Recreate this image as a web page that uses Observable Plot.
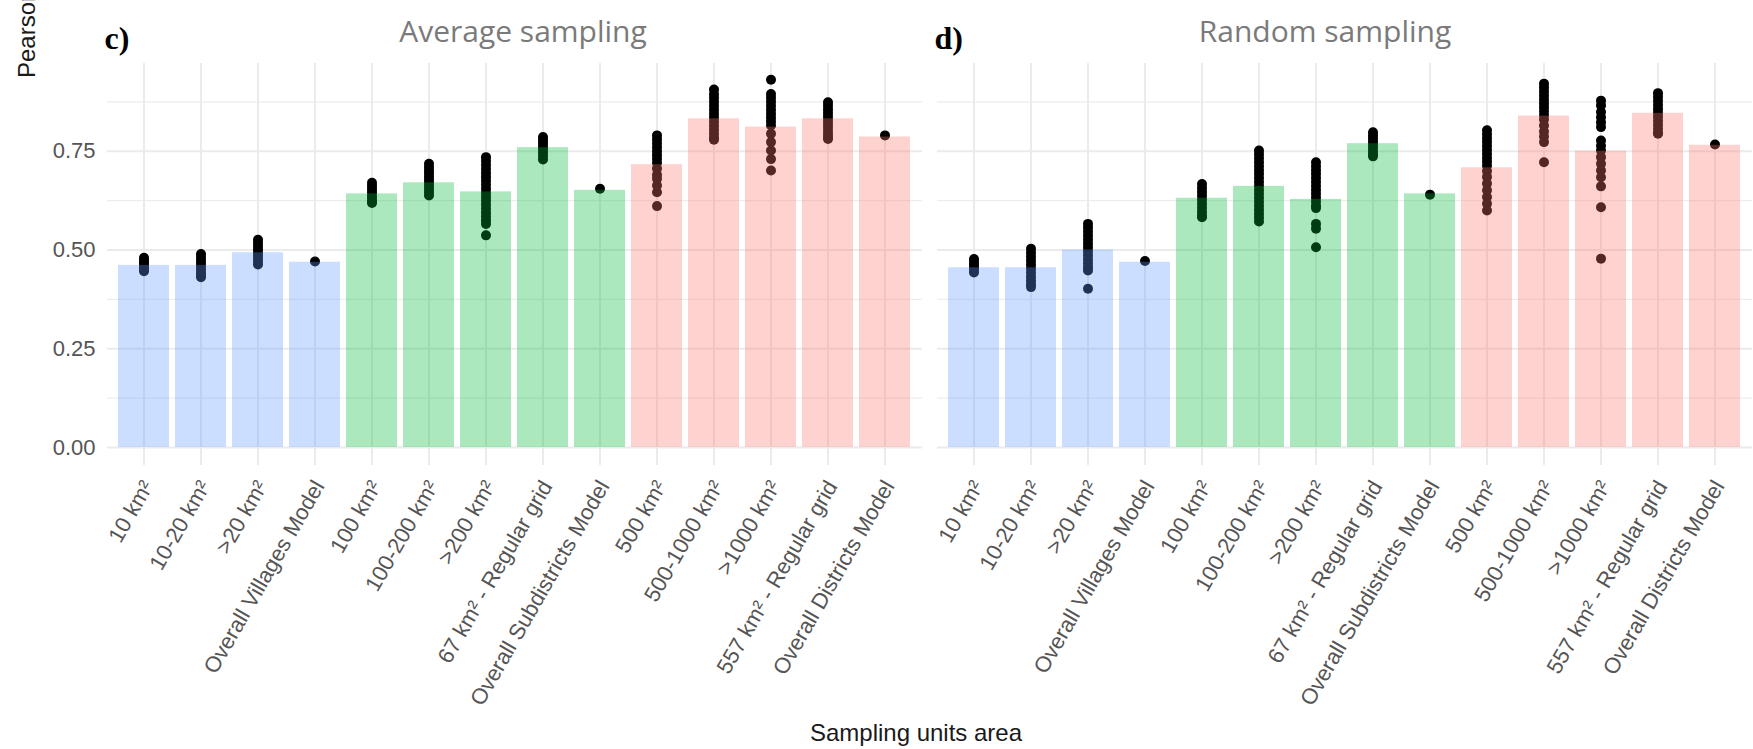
<!DOCTYPE html>
<html>
<head>
<meta charset="utf-8">
<script src="https://cdn.jsdelivr.net/npm/d3@7"></script>
<script src="https://cdn.jsdelivr.net/npm/@observablehq/plot@0.6"></script>
<style>
  body { margin: 0; background: #fff; }
  #wrap { position: relative; width: 1753px; height: 749px; overflow: hidden; background: #fff; }
  #chart { position: absolute; left: 0; top: 0; }
  #ytitle { position: absolute; left: 15px; top: 78px; transform-origin: 0 0; transform: rotate(-90deg);
            font: 24px/24px "Liberation Sans", Arial, sans-serif; color: #1a1a1a; white-space: nowrap; }
  #xtitle { position: absolute; left: 616px; width: 600px; top: 721px; text-align: center;
            font: 24px/24px "Liberation Sans", Arial, sans-serif; color: #1a1a1a; white-space: nowrap; }
</style>
</head>
<body>
<div id="wrap">
  <div id="chart"></div>
  <div id="ytitle">Pearson correlation coefficient</div>
  <div id="xtitle">Sampling units area</div>
</div>
<script>
const panels = ["Average sampling", "Random sampling"];
const panelTags = ["c)", "d)"];
const categories = ["10 km²", "10-20 km²", ">20 km²", "Overall Villages Model",
  "100 km²", "100-200 km²", ">200 km²", "67 km² - Regular grid", "Overall Subdistricts Model",
  "500 km²", "500-1000 km²", ">1000 km²", "557 km² - Regular grid", "Overall Districts Model"];
const levels = ["Villages", "Villages", "Villages", "Villages",
  "Subdistricts", "Subdistricts", "Subdistricts", "Subdistricts", "Subdistricts",
  "Districts", "Districts", "Districts", "Districts", "Districts"];
const levelNames = ["Villages", "Subdistricts", "Districts"];
const levelColors = ["#619CFF", "#00BA38", "#F8766D"];
const majorTicks = [0, 0.25, 0.5, 0.75];
const minorTicks = [0.125, 0.375, 0.625, 0.875];

const avgBar = [0.461, 0.461, 0.493, 0.469, 0.642, 0.670, 0.647, 0.759, 0.651, 0.716, 0.832, 0.811, 0.832, 0.786];
const rndBar = [0.455, 0.455, 0.500, 0.469, 0.631, 0.661, 0.628, 0.769, 0.642, 0.708, 0.839, 0.750, 0.846, 0.765];

const avgPts = [
  [0.480, 0.474, 0.468, 0.462, 0.456, 0.450, 0.446],
  [0.490, 0.482, 0.474, 0.466, 0.458, 0.450, 0.442, 0.436, 0.431],
  [0.526, 0.518, 0.510, 0.502, 0.494, 0.486, 0.478, 0.470, 0.463],
  [0.471],
  [0.670, 0.662, 0.654, 0.646, 0.638, 0.630, 0.622, 0.619],
  [0.718, 0.710, 0.702, 0.694, 0.686, 0.678, 0.670, 0.662, 0.654, 0.646, 0.638],
  [0.735, 0.725, 0.715, 0.705, 0.695, 0.685, 0.675, 0.665, 0.655, 0.645, 0.635, 0.625, 0.615, 0.605, 0.595, 0.585, 0.575, 0.566, 0.537],
  [0.786, 0.778, 0.770, 0.762, 0.754, 0.746, 0.738, 0.729],
  [0.655],
  [0.790, 0.780, 0.770, 0.760, 0.750, 0.740, 0.730, 0.720, 0.706, 0.690, 0.680, 0.663, 0.646, 0.611],
  [0.906, 0.895, 0.885, 0.875, 0.865, 0.855, 0.845, 0.835, 0.825, 0.815, 0.805, 0.795, 0.785, 0.779],
  [0.931, 0.895, 0.885, 0.875, 0.865, 0.855, 0.845, 0.835, 0.825, 0.815, 0.794, 0.773, 0.752, 0.730, 0.701],
  [0.874, 0.865, 0.856, 0.847, 0.838, 0.829, 0.820, 0.811, 0.802, 0.793, 0.785, 0.781],
  [0.790]
];

const rndPts = [
  [0.477, 0.470, 0.463, 0.456, 0.449, 0.443],
  [0.503, 0.493, 0.483, 0.473, 0.463, 0.453, 0.443, 0.433, 0.423, 0.413, 0.406],
  [0.566, 0.556, 0.546, 0.536, 0.526, 0.516, 0.506, 0.496, 0.486, 0.476, 0.466, 0.456, 0.448, 0.402],
  [0.472],
  [0.667, 0.657, 0.647, 0.637, 0.627, 0.617, 0.607, 0.597, 0.587, 0.583],
  [0.752, 0.742, 0.732, 0.722, 0.712, 0.702, 0.692, 0.682, 0.672, 0.662, 0.652, 0.642, 0.632, 0.622, 0.612, 0.602, 0.592, 0.582, 0.572],
  [0.722, 0.712, 0.702, 0.692, 0.682, 0.672, 0.662, 0.652, 0.642, 0.632, 0.622, 0.612, 0.606, 0.566, 0.554, 0.507],
  [0.798, 0.790, 0.782, 0.774, 0.766, 0.758, 0.750, 0.742, 0.737],
  [0.640],
  [0.803, 0.793, 0.783, 0.773, 0.763, 0.753, 0.743, 0.733, 0.723, 0.713, 0.700, 0.685, 0.668, 0.651, 0.634, 0.617, 0.600],
  [0.921, 0.911, 0.901, 0.891, 0.881, 0.871, 0.861, 0.851, 0.841, 0.830, 0.815, 0.800, 0.787, 0.773, 0.722],
  [0.878, 0.866, 0.849, 0.836, 0.823, 0.811, 0.777, 0.764, 0.752, 0.735, 0.718, 0.701, 0.684, 0.661, 0.608, 0.478],
  [0.897, 0.887, 0.877, 0.867, 0.857, 0.847, 0.837, 0.827, 0.817, 0.807, 0.797, 0.794],
  [0.767]
];

// Build tables for Plot
const barsData = panels.flatMap((p, k) => categories.map((c, i) => ({
  panel: p, cat: c, level: levels[i], r: (k === 0 ? avgBar : rndBar)[i]
})));
const pointsData = [];
panels.forEach((p, k) => {
  const pts = k === 0 ? avgPts : rndPts;
  categories.forEach((c, i) => pts[i].forEach(v => pointsData.push({panel: p, cat: c, r: v})));
});
const labelData = panels.flatMap(p => categories.map(c => ({panel: p, cat: c})));
const titleData = panels.map((p, k) => ({panel: p, title: p, tag: panelTags[k]}));

const chart = Plot.plot({
  width: 1753,
  height: 749,
  marginTop: 63,
  marginBottom: 302,
  marginLeft: 106,
  marginRight: 0,
  style: {fontFamily: '"Liberation Sans", Arial, sans-serif', fontSize: "22px", color: "#555", background: "transparent"},
  fx: {domain: panels, paddingInner: 0.0177, paddingOuter: 0, axis: null, label: null},
  x: {domain: categories, paddingInner: 0.1, paddingOuter: 0.15, axis: null},
  y: {domain: [0, 0.972], axis: null},
  color: {domain: levelNames, range: levelColors},
  marks: [
    Plot.gridY(minorTicks, {stroke: "#ededed", strokeOpacity: 1, strokeWidth: 1.2}),
    Plot.gridY(majorTicks, {stroke: "#ebebeb", strokeOpacity: 1, strokeWidth: 2}),
    Plot.gridX(categories, {stroke: "#ebebeb", strokeOpacity: 1, strokeWidth: 2, insetBottom: -18}),
    Plot.dot(pointsData, {x: "cat", y: "r", fx: "panel", r: 5, fill: "#000", stroke: null}),
    Plot.barY(barsData, {x: "cat", y: "r", fx: "panel", fill: "level", fillOpacity: 0.33}),
    Plot.axisY(majorTicks, {tickFormat: d3.format(".2f"), tickSize: 0, tickPadding: 12, label: null, fontSize: 22, fill: "#555"}),
    Plot.text(labelData, {x: "cat", fx: "panel", text: "cat", frameAnchor: "bottom", rotate: -60,
      textAnchor: "end", lineAnchor: "middle", dx: 4, dy: 35, fontSize: 22, fill: "#555"}),
    Plot.text(titleData.slice(0, 1), {fx: "panel", text: "title", frameAnchor: "top", lineAnchor: "bottom",
      dy: -22, dx: 8, fontSize: 30, fill: "#7a7a7a", fontFamily: '"Open Sans", sans-serif'}),
    Plot.text(titleData.slice(1), {fx: "panel", text: "title", frameAnchor: "top", lineAnchor: "bottom",
      dy: -22, dx: -20, fontSize: 30, fill: "#7a7a7a", fontFamily: '"Open Sans", sans-serif'}),
    Plot.text(titleData, {fx: "panel", text: "tag", frameAnchor: "top-left", textAnchor: "start", lineAnchor: "bottom",
      dy: -15, dx: -3, fontSize: 32, fontWeight: "bold", fontFamily: '"Liberation Serif", serif', fill: "#000"})
  ]
});
document.getElementById("chart").appendChild(chart);
</script>
</body>
</html>
